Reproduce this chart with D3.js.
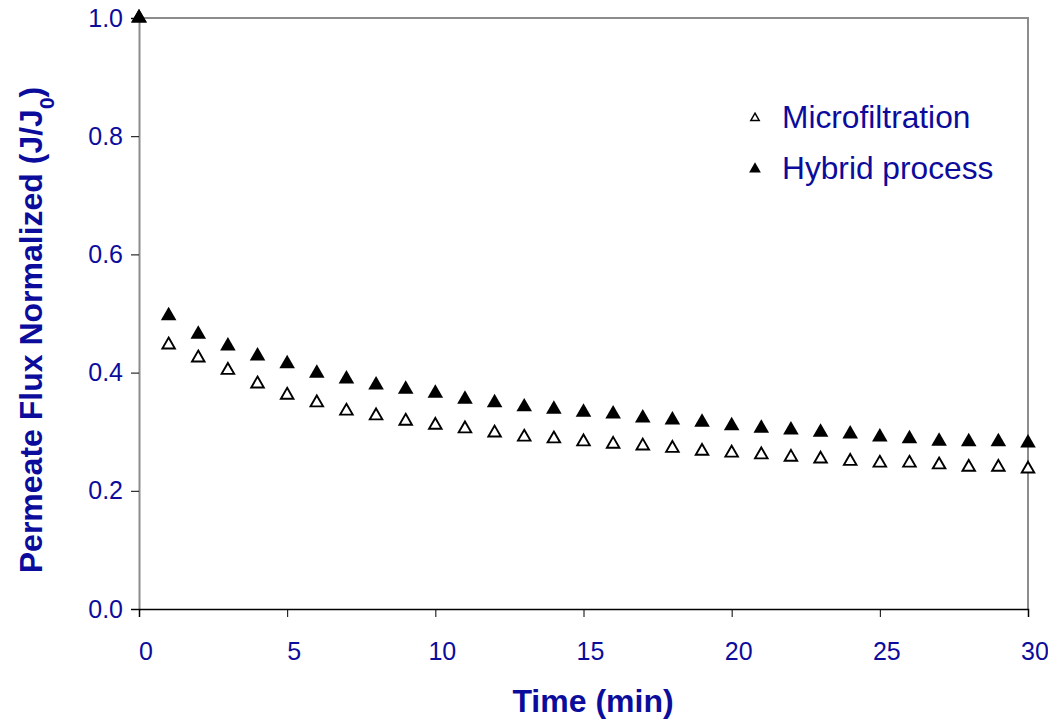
<!DOCTYPE html>
<html>
<head>
<meta charset="utf-8">
<script src="https://cdn.jsdelivr.net/npm/d3@7"></script>
<style>
  body { margin: 0; background: #fff; }
  text { font-family: "Liberation Sans", Arial, sans-serif; }
</style>
</head>
<body>
<svg id="chart" width="1048" height="720"></svg>
<script>
// time in minutes
const times = d3.range(0, 31)
const microfiltration = [1.0, 0.447, 0.425, 0.404, 0.381, 0.362, 0.349, 0.335, 0.327, 0.318, 0.311,
    0.305, 0.298, 0.291, 0.288, 0.283, 0.279, 0.276, 0.272, 0.267, 0.264,
    0.261, 0.257, 0.254, 0.250, 0.247, 0.247, 0.244, 0.240, 0.240, 0.237]
const hybrid = [1.0, 0.496, 0.465, 0.445, 0.428, 0.415, 0.399, 0.389, 0.379, 0.372, 0.365,
    0.355, 0.349, 0.342, 0.338, 0.333, 0.330, 0.323, 0.320, 0.316, 0.310,
    0.306, 0.303, 0.299, 0.296, 0.291, 0.288, 0.284, 0.283, 0.283, 0.281]
const xTicks = [0, 5, 10, 15, 20, 25, 30]
const yTicks = [0, 0.2, 0.4, 0.6, 0.8, 1.0]
const seriesNames = ['Microfiltration', 'Hybrid process']

const textColor = '#0c0c9c'
const margin = { left: 139, right: 20, top: 18, bottom: 111 }
const width = 1048, height = 720

const svg = d3.select('#chart')

const x = d3.scaleLinear().domain([0, 30]).range([margin.left, width - margin.right])
const y = d3.scaleLinear().domain([0, 1]).range([height - margin.bottom, margin.top])

// frame (top and right)
svg.append('path')
    .attr('d', `M${x(0)},${y(1)}H${x(30)}V${y(0)}`)
    .attr('fill', 'none')
    .attr('stroke', '#8c8c8c')
    .attr('stroke-width', 2)

// y axis
const yAxis = svg.append('g')
    .attr('transform', `translate(${x(0)},0)`)
    .call(d3.axisLeft(y).tickValues(yTicks).tickFormat(d3.format('.1f')).tickSize(8).tickPadding(8))
yAxis.select('.domain').attr('stroke', '#8c8c8c').attr('stroke-width', 2)
yAxis.selectAll('.tick line').attr('stroke', '#000')
yAxis.selectAll('text').attr('fill', textColor).style('font-size', '25px')

// x axis
const xAxis = svg.append('g')
    .attr('transform', `translate(0,${y(0)})`)
    .call(d3.axisBottom(x).tickValues(xTicks).tickSize(8).tickPadding(25))
xAxis.select('.domain').attr('stroke', '#000').attr('stroke-width', 1.5)
xAxis.selectAll('.tick line').attr('stroke', '#000')
xAxis.selectAll('text').attr('fill', textColor).style('font-size', '25px').attr('dx', 6.5)

// axis titles
svg.append('text')
    .attr('x', 593)
    .attr('y', 712)
    .attr('text-anchor', 'middle')
    .attr('fill', textColor)
    .style('font-size', '32px')
    .style('font-weight', 'bold')
    .text('Time (min)')

const yTitle = svg.append('text')
    .attr('transform', `translate(42,330) rotate(-90)`)
    .attr('text-anchor', 'middle')
    .attr('fill', textColor)
    .style('font-size', '32px')
    .style('font-weight', 'bold')
yTitle.append('tspan').text('Permeate Flux Normalized (J/J')
yTitle.append('tspan').attr('baseline-shift', 'sub').style('font-size', '21px').text('0')
yTitle.append('tspan').text(')')

const tri = d3.symbol().type(d3.symbolTriangle)

// Microfiltration - open triangles
svg.append('g')
    .selectAll('path')
    .data(times)
    .enter()
    .append('path')
    .attr('transform', (t, i) => `translate(${x(t)},${y(microfiltration[i])})`)
    .attr('d', tri.size(68))
    .attr('fill', '#fff')
    .attr('stroke', '#000')
    .attr('stroke-width', 1.9)

// Hybrid process - filled triangles
svg.append('g')
    .selectAll('path')
    .data(times)
    .enter()
    .append('path')
    .attr('transform', (t, i) => `translate(${x(t)},${y(hybrid[i])})`)
    .attr('d', tri.size(105))
    .attr('fill', '#000')

// legend
const legend = svg.append('g')
seriesNames.forEach((name, i) => {
    const cy = 117 + i * 51
    legend.append('path')
        .attr('transform', `translate(755,${cy + 1})`)
        .attr('d', d3.symbol().type(d3.symbolTriangle).size(i === 0 ? 30 : 60)())
        .attr('fill', i === 0 ? '#fff' : '#000')
        .attr('stroke', '#000')
        .attr('stroke-width', i === 0 ? 1.5 : 0)
    legend.append('text')
        .attr('x', 782)
        .attr('y', cy + 11)
        .attr('fill', textColor)
        .style('font-size', '31.7px')
        .text(name)
})
</script>
</body>
</html>
